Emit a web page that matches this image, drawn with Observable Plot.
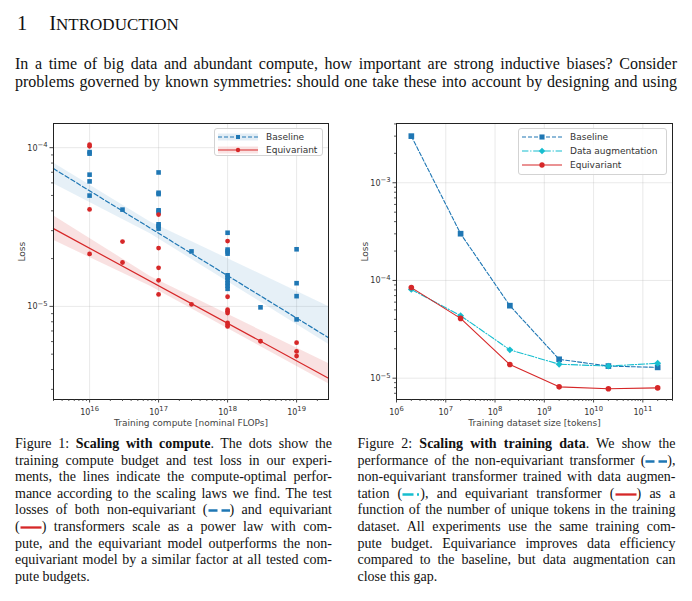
<!DOCTYPE html>
<html><head><meta charset="utf-8">
<script src="https://cdn.jsdelivr.net/npm/d3@7"></script>
<script src="https://cdn.jsdelivr.net/npm/@observablehq/plot@0.6"></script>
<style>
body{margin:0;background:#fff;}
#page{position:relative;width:692px;height:601px;overflow:hidden;font-family:"Liberation Serif","Times New Roman",serif;color:#111;}
.abs{position:absolute;}
#heading{left:17px;top:10.6px;font-size:20.5px;line-height:24px;white-space:nowrap;}
#para{left:15px;top:55px;width:662px;font-size:16px;line-height:18px;}
.cap{top:436.3px;font-size:14px;line-height:16.55px;}
#cap1{left:15px;width:317px;}
#cap2{left:357.5px;width:317.5px;}
.jl,.ll{white-space:nowrap;}
.jl span,.ll span{white-space:nowrap;}
.chart{position:absolute;top:115px;}
#c1{left:0;width:340px;height:318px;}
#c2{left:340px;width:352px;height:318px;}
.legend{position:absolute;border:1px solid #d3d3d3;border-radius:3px;background:rgba(255,255,255,0.85);box-sizing:border-box;font:9px "DejaVu Sans";color:#333;}
.lrow{position:absolute;left:0;display:flex;align-items:center;white-space:nowrap;}
svg.ic{vertical-align:baseline;}
</style></head><body>
<div id="page">
  <div id="heading" class="abs">1<span style="margin-left:22px">I<span style="font-size:17px">NTRODUCTION</span></span></div>
  <div id="para" class="abs">
    <div class="jl"><span>In a time of big data and abundant compute, how important are strong inductive biases? Consider</span></div>
    <div class="jl"><span>problems governed by known symmetries: should one take these into account by designing and using</span></div>
  </div>
  <div id="c1" class="chart"></div>
  <div id="c2" class="chart"></div>
  <div id="cap1" class="abs cap">
    <div class="jl"><span>Figure 1: <b>Scaling with compute</b>. The dots show the</span></div>
    <div class="jl"><span>training compute budget and test loss in our experi-</span></div>
    <div class="jl"><span>ments, the lines indicate the compute-optimal perfor-</span></div>
    <div class="jl"><span>mance according to the scaling laws we find. The test</span></div>
    <div class="jl"><span>losses of both non-equivariant (<svg class="ic" width="22" height="8"><line x1="0.5" x2="22" y1="4.5" y2="4.5" stroke="#1f77b4" stroke-width="2.3" stroke-dasharray="9,4"/></svg>) and equivariant</span></div>
    <div class="jl"><span>(<svg class="ic" width="22" height="8"><line x1="0.5" x2="21.5" y1="4.5" y2="4.5" stroke="#d62728" stroke-width="2.3"/></svg>) transformers scale as a power law with com-</span></div>
    <div class="jl"><span>pute, and the equivariant model outperforms the non-</span></div>
    <div class="jl"><span>equivariant model by a similar factor at all tested com-</span></div>
    <div class="ll"><span>pute budgets.</span></div>
  </div>
  <div id="cap2" class="abs cap">
    <div class="jl"><span>Figure 2: <b>Scaling with training data</b>. We show the</span></div>
    <div class="jl"><span>performance of the non-equivariant transformer (<svg class="ic" width="22" height="8"><line x1="0.5" x2="22" y1="4.5" y2="4.5" stroke="#1f77b4" stroke-width="2.3" stroke-dasharray="9,4"/></svg>),</span></div>
    <div class="jl"><span>non-equivariant transformer trained with data augmen-</span></div>
    <div class="jl"><span>tation (<svg class="ic" width="18" height="8"><line x1="0.5" x2="18" y1="4.5" y2="4.5" stroke="#17becf" stroke-width="2.3" stroke-dasharray="11,3.5,2,10"/></svg>), and equivariant transformer (<svg class="ic" width="22" height="8"><line x1="0.5" x2="21.5" y1="4.5" y2="4.5" stroke="#d62728" stroke-width="2.3"/></svg>) as a</span></div>
    <div class="jl"><span>function of the number of unique tokens in the training</span></div>
    <div class="jl"><span>dataset. All experiments use the same training com-</span></div>
    <div class="jl"><span>pute budget. Equivariance improves data efficiency</span></div>
    <div class="jl"><span>compared to the baseline, but data augmentation can</span></div>
    <div class="ll"><span>close this gap.</span></div>
  </div>
</div>
<script>
// ---------- Figure 1 data ----------
const computeTicks = [1e16, 1e17, 1e18, 1e19];
const lossTicksCompute = [1e-5, 1e-4];
const baselineCompute = [1e16,1e16,1e16,1e16,1e16, 3e16,
  1e17,1e17,1e17,1e17,1e17,1e17,1e17,1e17, 3e17,
  1e18,1e18,1e18,1e18,1e18,1e18,1e18,1e18,1e18,1e18, 3e18,
  1e19,1e19,1e19,1e19];
const baselineLoss = [9.38e-5, 9.17e-5, 6.76e-5, 6.13e-5, 4.99e-5, 4.07e-5,
  6.98e-5, 5.2e-5, 5.1e-5, 4.03e-5, 3.95e-5, 3.29e-5, 3.21e-5, 3.09e-5, 2.22e-5,
  2.91e-5, 2.28e-5, 2.22e-5, 2.15e-5, 1.57e-5, 1.52e-5, 1.46e-5, 1.40e-5, 1.35e-5, 1.29e-5, 9.86e-6,
  2.29e-5, 1.40e-5, 1.16e-5, 8.28e-6];
const equivCompute = [1e16,1e16,1e16,1e16, 3e16,3e16,
  1e17,1e17,1e17,1e17,1e17, 3e17,
  1e18,1e18,1e18,1e18,1e18,1e18,1e18,1e18, 3e18,
  1e19,1e19,1e19];
const equivLoss = [1.044e-4, 1.02e-4, 4.08e-5, 2.14e-5, 2.56e-5, 1.89e-5,
  3.79e-5, 2.33e-5, 1.75e-5, 1.46e-5, 1.19e-5, 1.03e-5,
  2.58e-5, 1.15e-5, 9.53e-6, 9.31e-6, 9.08e-6, 7.86e-6, 7.67e-6, 7.48e-6, 6.03e-6,
  5.91e-6, 5.2e-6, 4.86e-6];
const fitCompute = [3e15, 2.9e19];
const fitBaselineLoss = [7.38e-5, 6.35e-6];
const fitEquivLoss = [3.09e-5, 3.53e-6];
const bandCompute = [3e15, 7.6e16, 2.9e19];
const bandBaselineLow = [5.93e-5, 2.87e-5, 5.77e-6];
const bandBaselineHigh = [8.0e-5, 3.40e-5, 1.0e-5];
const bandEquivLow = [2.61e-5, 1.337e-5, 3.26e-6];
const bandEquivHigh = [3.73e-5, 1.545e-5, 4.36e-6];

// ---------- Figure 2 data ----------
const tokenTicks = [1e6, 1e7, 1e8, 1e9, 1e10, 1e11];
const lossTicksData = [1e-5, 1e-4, 1e-3];
const tokens = [2e6, 2e7, 2e8, 2e9, 2e10, 2e11];
const lossBaseline = [3.0e-3, 3.01e-4, 5.52e-5, 1.56e-5, 1.33e-5, 1.29e-5];
const lossAugment = [8.1e-5, 4.36e-5, 1.95e-5, 1.39e-5, 1.33e-5, 1.42e-5];
const lossEquivariant = [8.45e-5, 4.09e-5, 1.38e-5, 8.15e-6, 7.8e-6, 7.95e-6];

const BLUE = "#1f77b4", RED = "#d62728", CYAN = "#17becf";

// ---------- helpers ----------
const BASE_FS = 8, EXP_FS = 6.8, TICK_COLOR = "#333";
const expStr = d => String(Math.round(Math.log10(d))).replace("-", "\u2212");
const ctx = document.createElement("canvas").getContext("2d");
function textW(s, fs) { ctx.font = `${fs}px "DejaVu Sans"`; return ctx.measureText(s).width; }
function minorTicks(lo, hi) {
  const out = [];
  for (let e = Math.floor(Math.log10(lo)); e <= Math.ceil(Math.log10(hi)); e++)
    for (let m = 2; m <= 9; m++) { const v = m * Math.pow(10, e); if (v >= lo && v <= hi) out.push(v); }
  return out;
}
const zipXY = (xs, ys) => xs.map((x, i) => ({x, y: ys[i]}));
const zipBand = (xs, lo, hi) => xs.map((x, i) => ({x, lo: lo[i], hi: hi[i]}));
const chartStyle = {fontFamily: "'DejaVu Sans'", fontSize: "9px", color: "#333", background: "transparent", overflow: "visible"};

// tick labels drawn as "10" plus a raised exponent
function xTickLabels(ticks) {
  const wb = textW("10", BASE_FS);
  return ticks.flatMap(t => {
    const e = expStr(t), we = textW(e, EXP_FS), total = wb + we;
    return [
      Plot.text([t], {x: d => d, text: () => "10", frameAnchor: "bottom", lineAnchor: "bottom", textAnchor: "start", dx: -total / 2, dy: 15, fontSize: BASE_FS, fill: TICK_COLOR}),
      Plot.text([t], {x: d => d, text: () => e, frameAnchor: "bottom", lineAnchor: "bottom", textAnchor: "start", dx: -total / 2 + wb, dy: 11.6, fontSize: EXP_FS, fill: TICK_COLOR})
    ];
  });
}
function yTickLabels(ticks) {
  return ticks.flatMap(t => {
    const e = expStr(t), we = textW(e, EXP_FS);
    return [
      Plot.text([t], {y: d => d, text: () => "10", frameAnchor: "left", lineAnchor: "bottom", textAnchor: "end", dx: -6 - we, dy: 3, fontSize: BASE_FS, fill: TICK_COLOR}),
      Plot.text([t], {y: d => d, text: () => e, frameAnchor: "left", lineAnchor: "bottom", textAnchor: "end", dx: -6, dy: -0.6, fontSize: EXP_FS, fill: TICK_COLOR})
    ];
  });
}
function axes(xTicks, yTicks, xDom, yDom) {
  return [
    Plot.axisX(minorTicks(xDom[0], xDom[1]), {tickSize: 2, tickFormat: () => "", label: null, strokeWidth: 0.8}),
    Plot.axisY(minorTicks(yDom[0], yDom[1]), {tickSize: 2, tickFormat: () => "", label: null, strokeWidth: 0.8}),
    Plot.axisX(xTicks, {tickSize: 3.5, tickFormat: () => "", label: null, strokeWidth: 0.9}),
    Plot.axisY(yTicks, {tickSize: 3.5, tickFormat: () => "", label: null, strokeWidth: 0.9}),
    ...xTickLabels(xTicks),
    ...yTickLabels(yTicks)
  ];
}

// ---------- Figure 1 ----------
const xDom1 = [3e15, 2.9e19], yDom1 = [2.59e-6, 1.42e-4];
const chart1 = Plot.plot({
  width: 340, height: 318,
  marginLeft: 53, marginRight: 12, marginTop: 8, marginBottom: 34,
  x: {type: "log", domain: xDom1},
  y: {type: "log", domain: yDom1},
  style: chartStyle,
  marks: [
    Plot.gridX(computeTicks, {stroke: "#b0b0b0", strokeOpacity: 0.35, strokeWidth: 0.8}),
    Plot.gridY(lossTicksCompute, {stroke: "#b0b0b0", strokeOpacity: 0.35, strokeWidth: 0.8}),
    Plot.areaY(zipBand(bandCompute, bandBaselineLow, bandBaselineHigh), {x: "x", y1: "lo", y2: "hi", fill: BLUE, fillOpacity: 0.11}),
    Plot.areaY(zipBand(bandCompute, bandEquivLow, bandEquivHigh), {x: "x", y1: "lo", y2: "hi", fill: RED, fillOpacity: 0.14}),
    Plot.line(zipXY(fitCompute, fitBaselineLoss), {x: "x", y: "y", stroke: BLUE, strokeWidth: 1.2, strokeDasharray: "4.4,2.4"}),
    Plot.line(zipXY(fitCompute, fitEquivLoss), {x: "x", y: "y", stroke: RED, strokeWidth: 1.2}),
    Plot.dot(zipXY(baselineCompute, baselineLoss), {x: "x", y: "y", symbol: "square", r: 2.6, fill: BLUE, stroke: "none"}),
    Plot.dot(zipXY(equivCompute, equivLoss), {x: "x", y: "y", symbol: "circle", r: 2.4, fill: RED, stroke: "none"}),
    Plot.frame({stroke: "#222", strokeWidth: 1}),
    ...axes(computeTicks, lossTicksCompute, xDom1, yDom1),
    Plot.text(["Loss"], {text: d => d, frameAnchor: "left", dx: -31, rotate: -90, fontSize: 9, fill: "#444"}),
    Plot.text(["Training compute [nominal FLOPs]"], {text: d => d, frameAnchor: "bottom", dy: 26, fontSize: 9, fill: "#444"})
  ]
});
document.getElementById("c1").appendChild(chart1);

// ---------- Figure 2 ----------
const xDom2 = [1e6, 4e11], yDom2 = [6.05e-6, 4.04e-3];
const chart2 = Plot.plot({
  width: 352, height: 318,
  marginLeft: 56, marginRight: 20, marginTop: 8, marginBottom: 34,
  x: {type: "log", domain: xDom2},
  y: {type: "log", domain: yDom2},
  style: chartStyle,
  marks: [
    Plot.gridX(tokenTicks, {stroke: "#b0b0b0", strokeOpacity: 0.35, strokeWidth: 0.8}),
    Plot.gridY(lossTicksData, {stroke: "#b0b0b0", strokeOpacity: 0.35, strokeWidth: 0.8}),
    Plot.line(zipXY(tokens, lossBaseline), {x: "x", y: "y", stroke: BLUE, strokeWidth: 1.1, strokeDasharray: "4,2"}),
    Plot.dot(zipXY(tokens, lossBaseline), {x: "x", y: "y", symbol: "square", r: 3.2, fill: BLUE, stroke: "none"}),
    Plot.line(zipXY(tokens, lossAugment), {x: "x", y: "y", stroke: CYAN, strokeWidth: 1.1, strokeDasharray: "6.4,1.8,1.2,1.8"}),
    Plot.dot(zipXY(tokens, lossAugment), {x: "x", y: "y", symbol: "diamond2", r: 3.1, fill: CYAN, stroke: "none"}),
    Plot.line(zipXY(tokens, lossEquivariant), {x: "x", y: "y", stroke: RED, strokeWidth: 1.1}),
    Plot.dot(zipXY(tokens, lossEquivariant), {x: "x", y: "y", symbol: "circle", r: 2.8, fill: RED, stroke: "none"}),
    Plot.frame({stroke: "#222", strokeWidth: 1}),
    ...axes(tokenTicks, lossTicksData, xDom2, yDom2),
    Plot.text(["Loss"], {text: d => d, frameAnchor: "left", dx: -31, rotate: -90, fontSize: 9, fill: "#444"}),
    Plot.text(["Training dataset size [tokens]"], {text: d => d, frameAnchor: "bottom", dy: 26, fontSize: 9, fill: "#444"})
  ]
});
document.getElementById("c2").appendChild(chart2);

// ---------- legends ----------
function legend(parent, items, box) {
  const el = document.createElement("div");
  el.className = "legend";
  Object.assign(el.style, {left: box.left + "px", top: box.top + "px", width: box.width + "px", height: box.height + "px"});
  items.forEach((it, i) => {
    const row = document.createElement("div");
    row.className = "lrow";
    const h = 12;
    row.style.top = (box.first + i * box.pitch - h / 2 - 1) + "px";
    row.style.height = h + "px";
    const sym = d3.symbol(it.symbol, it.size)();
    row.innerHTML =
      `<svg width="40" height="${h}" style="margin-left:3px;flex:none;overflow:visible">` +
      (it.band ? `<rect x="0" y="${h/2-3.5}" width="40" height="7" fill="${it.color}" fill-opacity="0.13"/>` : "") +
      `<line x1="0" x2="40" y1="${h/2}" y2="${h/2}" stroke="${it.color}" stroke-width="1.1"${it.dash ? ` stroke-dasharray="${it.dash}"` : ""}/>` +
      `<path d="${sym}" transform="translate(20,${h/2})" fill="${it.color}"/></svg>` +
      `<span style="margin-left:8px">${it.label}</span>`;
    el.appendChild(row);
  });
  parent.appendChild(el);
}
const legend1Items = [
  {label: "Baseline", color: BLUE, dash: "4,2", symbol: d3.symbolSquare, size: 16, band: true},
  {label: "Equivariant", color: RED, dash: null, symbol: d3.symbolCircle, size: 15, band: true}
];
const legend2Items = [
  {label: "Baseline", color: BLUE, dash: "4,2", symbol: d3.symbolSquare, size: 26},
  {label: "Data augmentation", color: CYAN, dash: "6.4,1.8,1.2,1.8", symbol: d3.symbolDiamond2, size: 28},
  {label: "Equivariant", color: RED, dash: null, symbol: d3.symbolCircle, size: 22}
];
legend(document.getElementById("c1"), legend1Items, {left: 214, top: 13, width: 109, height: 28, first: 9.3, pitch: 12.7});
legend(document.getElementById("c2"), legend2Items, {left: 178, top: 13.3, width: 149, height: 47, first: 9, pitch: 13.8});

// ---------- justify text lines ----------
document.querySelectorAll(".jl").forEach(div => {
  const span = div.firstElementChild;
  span.style.display = "inline-block";
  const target = div.clientWidth;
  const w = span.getBoundingClientRect().width;
  const n = (span.textContent.match(/ /g) || []).length;
  if (n) span.style.wordSpacing = ((target - w) / n) + "px";
});
</script>
</body></html>
